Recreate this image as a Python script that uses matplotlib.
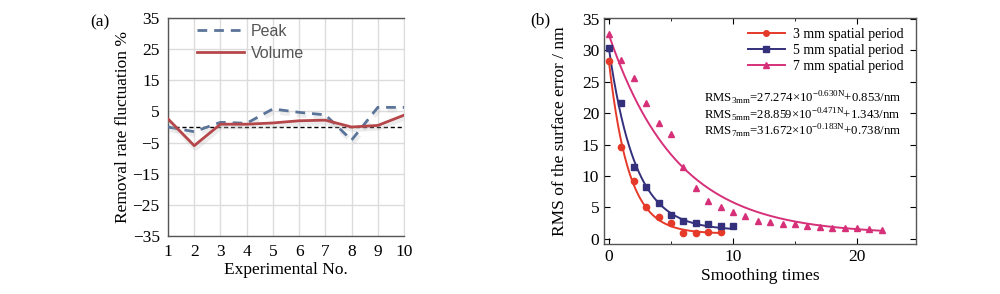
import numpy as np
import matplotlib
matplotlib.use("Agg")
import matplotlib.pyplot as plt
import matplotlib.patheffects as pe

# ---- data panel (a)
exp_no = [1, 2, 3, 4, 5, 6, 7, 8, 9, 10]
peak = [0.0, -1.5, 1.5, 1.2, 5.8, 4.7, 3.9, -4.2, 6.3, 6.3]
volume = [2.6, -6.0, 0.9, 0.9, 1.3, 2.0, 2.2, 0.0, 0.5, 3.8]
yticks_a = [35, 25, 15, 5, -5, -15, -25, -35]

# ---- data panel (b)
n3 = list(range(10))
rms3 = [28.3, 14.6, 9.2, 5.0, 3.5, 2.5, 0.9, 0.9, 1.1, 1.1]
n5 = list(range(11))
rms5 = [30.3, 21.6, 11.4, 8.2, 5.7, 3.8, 2.8, 2.5, 2.4, 2.1, 2.0]
n7 = list(range(23))
rms7 = [32.6, 28.5, 25.5, 21.6, 18.4, 16.7, 11.4, 8.1, 6.1, 5.1, 4.3, 3.6,
        2.9, 2.7, 2.4, 2.3, 2.1, 1.9, 1.8, 1.7, 1.7, 1.6, 1.5]
# fit parameters shown in the chart: A, k, c
fit3 = (27.274, 0.630, 0.853)
fit5 = (28.859, 0.471, 1.343)
fit7 = (31.672, 0.183, 0.738)
labels_b = ["3 mm spatial period", "5 mm spatial period", "7 mm spatial period"]

serif = ["Liberation Serif", "DejaVu Serif"]
plt.rcParams["font.family"] = serif
plt.rcParams["mathtext.fontset"] = "custom"
plt.rcParams["mathtext.rm"] = "Liberation Serif"

fig = plt.figure(figsize=(10, 2.94), dpi=100)

# ---------------- panel (a)
ax = fig.add_axes([0.168, 1 - 236/294, (404-168)/1000, (236-18)/294])
ax.set_xlim(1, 10)
ax.set_ylim(-35, 35)
ax.set_xticks(exp_no)
ax.set_yticks(yticks_a)
ax.grid(True, color="#dcdcdc", lw=1.0)
ax.set_axisbelow(True)
for s in ["left", "top", "bottom"]:
    ax.spines[s].set_color("#555555")
    ax.spines[s].set_linewidth(1.0)
ax.spines["right"].set_color("#dcdcdc")
ax.tick_params(length=0, labelsize=12.5, pad=6)
ax.axhline(0, color="black", ls=(0, (3, 2)), lw=1.0, zorder=2)
shadow = [pe.SimpleLineShadow(offset=(1, -2), shadow_color="#bbbbbb", alpha=0.25, linewidth=3.5), pe.Normal()]
ax.plot(exp_no, peak, color="#5b7499", ls=(0, (3.5, 2.5)), lw=2.0,
        path_effects=shadow, zorder=3)
ax.plot(exp_no, volume, color="#b5474a", lw=2.0,
        path_effects=shadow, zorder=4)
ax.plot([], [], color="#5b7499", ls=(0, (3.5, 2.5)), lw=2.0, label="Peak")
ax.plot([], [], color="#b5474a", lw=2.0, label="Volume")
leg = ax.legend(loc="upper left", frameon=False, prop={"family": "Liberation Sans", "size": 11.5},
                handlelength=3.0, bbox_to_anchor=(0.06, 1.04), labelspacing=0.45,
                handletextpad=0.4)
for t in leg.get_texts():
    t.set_color("#555555")
ax.set_xlabel("Experimental No.", fontsize=12.5, labelpad=1)
ax.set_ylabel("Removal rate fluctuation %", fontsize=12.5, labelpad=1)
fig.text(0.100, 1 - 22/294, "(a)", fontsize=12.5, ha="center", va="center")

# ---------------- panel (b)
bx = fig.add_axes([0.604, 1 - 244/294, (916-604)/1000, (244-18)/294])
bx.set_xlim(-0.4, 24.75)
bx.set_ylim(-0.8, 35.1)
bx.set_xticks([0, 10, 20])
bx.set_yticks([0, 5, 10, 15, 20, 25, 30, 35])
bx.set_xticks([5, 15], minor=True)
bx.tick_params(direction="in", top=True, right=True, length=4, labelsize=12.5, width=0.8)
bx.tick_params(which="minor", direction="in", top=True, length=2.5)
for s in bx.spines.values():
    s.set_color("#555555")
    s.set_linewidth(1.0)

cols = ["#e5392a", "#34307c", "#d63079"]
markers = ["o", "s", "^"]
for (n, r, fit, c, m, lab) in zip([n3, n5, n7], [rms3, rms5, rms7], [fit3, fit5, fit7],
                                  cols, markers, labels_b):
    A, k, cc = fit
    xx = np.linspace(0, max(n), 200)
    bx.plot(xx, A * np.exp(-k * xx) + cc, color=c, lw=1.4, zorder=2)
    bx.plot(n, r, ls="none", marker=m, color=c, ms=4.5, zorder=3)
    bx.plot([], [], color=c, marker=m, ms=4, lw=1.4, label=lab)

bx.legend(loc="upper right", frameon=False, fontsize=10, handlelength=2.6,
          labelspacing=0.2, bbox_to_anchor=(1.0, 1.01), handletextpad=0.6)
formulas = [
    r"RMS$_{\mathrm{3mm}}$=27.274×10$^{\mathrm{-0.630N}}$+0.853/nm",
    r"RMS$_{\mathrm{5mm}}$=28.859×10$^{\mathrm{-0.471N}}$+1.343/nm",
    r"RMS$_{\mathrm{7mm}}$=31.672×10$^{\mathrm{-0.183N}}$+0.738/nm",
]
for i, f in enumerate(formulas):
    bx.text(7.7, 22.3 - i * 2.6, f, fontsize=9.2, ha="left", va="center")
bx.set_xlabel("Smoothing times", fontsize=12.5, labelpad=2)
bx.set_ylabel("RMS of the surface error / nm", fontsize=12.5, labelpad=10)
fig.text(0.540, 1 - 20/294, "(b)", fontsize=12.5, ha="center", va="center")

fig.savefig("out.png", dpi=100)
